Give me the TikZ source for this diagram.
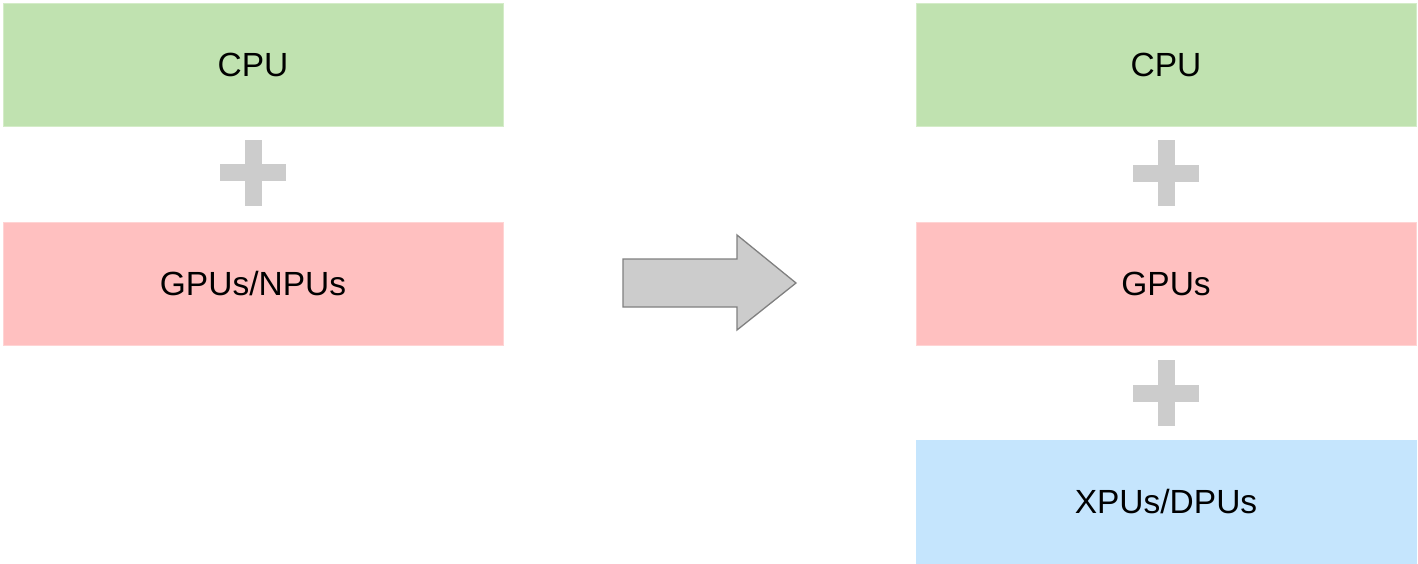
\documentclass[tikz,border=0pt]{standalone}
\usepackage{fontspec}
\setmainfont{Liberation Sans}
\definecolor{cpugreen}{HTML}{C0E2B0}
\definecolor{cpuedge}{HTML}{D4ECC8}
\definecolor{gpupink}{HTML}{FFC0C0}
\definecolor{gpuedge}{HTML}{FFD4D4}
\definecolor{xpublue}{HTML}{C5E5FD}
\definecolor{plusgray}{HTML}{CCCCCC}
\definecolor{arrowedge}{HTML}{808080}
\begin{document}
\begin{tikzpicture}[x=1pt,y=-1pt,
  unit/.style={minimum width=500pt,minimum height=123pt,inner sep=0pt,
    font=\fontsize{33.5}{40}\selectfont,line width=0.8pt},
  pluspart/.style={fill=plusgray,draw=none},
  bigarrow/.style={fill=plusgray,draw=arrowedge,line width=1.3pt,line join=miter}]
\useasboundingbox (0,0) rectangle (1418,564);
% left column
\node[unit,fill=cpugreen,draw=cpuedge] (lcpu) at (253,64.5) {\raisebox{-1.5pt}{CPU}};
\node[unit,fill=gpupink,draw=gpuedge] (lgpu) at (253,283.5) {\raisebox{-1.5pt}{GPUs/NPUs}};
% right column
\node[unit,fill=cpugreen,draw=cpuedge] (rcpu) at (1166,64.5) {\raisebox{-1.5pt}{CPU}};
\node[unit,fill=gpupink,draw=gpuedge] (rgpu) at (1166,283.5) {\raisebox{-1.5pt}{GPUs}};
\node[unit,fill=xpublue,draw=xpublue] (rxpu) at (1166,501.5) {\raisebox{-1.5pt}{XPUs/DPUs}};
% plus signs
\newcommand{\plussign}[2]{%
  \fill[pluspart] (#1-8.5,#2-33) rectangle (#1+8.5,#2+33);
  \fill[pluspart] (#1-33,#2-8.5) rectangle (#1+33,#2+8.5);}
\plussign{253}{173}
\plussign{1166}{173.5}
\plussign{1166}{393}
% big arrow
\draw[bigarrow] (623,259) -- (737,259) -- (737,235) -- (796,283) -- (737,330)
  -- (737,307) -- (623,307) -- cycle;
\end{tikzpicture}
\end{document}
